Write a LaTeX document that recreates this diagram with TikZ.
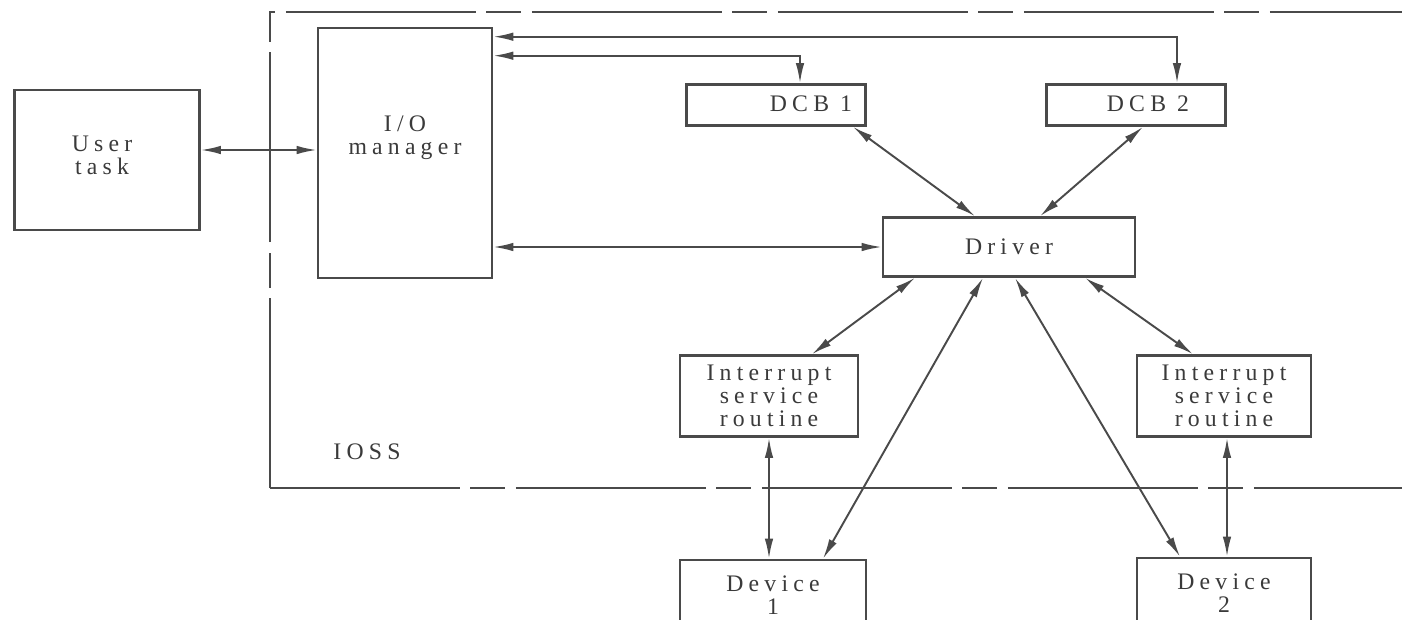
\documentclass[tikz,border=0pt]{standalone}
\usepackage{fontspec}
\setmainfont{Liberation Serif}
\newfontfamily\trackfont[LetterSpace=22]{Liberation Serif}
\usetikzlibrary{arrows.meta,calc}
\definecolor{ink}{HTML}{4A4A4A}
\definecolor{txt}{HTML}{3A3A3A}
\tikzset{
  blk/.style={draw=ink, line width=1.5pt, align=center, inner sep=2pt},
  lbl/.style={align=center, text=txt, inner sep=1pt, font=\trackfont\fontsize{13.5}{13}\selectfont},
  biarr/.style={{Latex[length=4mm,width=1.7mm]}-{Latex[length=4mm,width=1.7mm]}, draw=ink, line width=1.1pt},
  frame/.style={draw=ink, line width=1.1pt, dash pattern=on 108pt off 6pt on 20pt off 6pt},
}
\newcommand{\blk}[5]{\node[blk, lbl, minimum width=#3cm, minimum height=#4cm] (#1) at #2 {#5};}
\begin{document}
\begin{tikzpicture}[x=0.02cm,y=-0.02cm]
  \useasboundingbox (0,0) rectangle (1402,619);
  \draw[frame] (270,488) -- (270,12) -- (1402,12);
  \draw[frame] (270,488) -- (1402,488);
  \node[lbl] (ioss) at (367,452) {IOSS};
  \node[blk, minimum width=3.7cm, minimum height=2.8cm] (user) at (107,160) {};
  \node[lbl] (usertxt) at (102,155) {User\\task};
  \node[blk, minimum width=3.48cm, minimum height=5.0cm] (iom) at (405,153) {};
  \node[lbl] (iomtxt) at (405,138) {I/O\\manager};
  \node[blk, minimum width=3.58cm, minimum height=0.82cm] (dcb1) at (776,105) {};
  \node[lbl] (dcb1txt) at (811,104) {DCB 1};
  \node[blk, minimum width=3.58cm, minimum height=0.82cm] (dcb2) at (1136,105) {};
  \node[lbl] (dcb2txt) at (1148,104) {DCB 2};
  \blk{drv}{(1009,247)}{5.04}{1.18}{Driver}
  \blk{isr1}{(769,396)}{3.56}{1.62}{Interrupt\\service\\routine}
  \blk{isr2}{(1224,396)}{3.48}{1.62}{Interrupt\\service\\routine}
  \blk{dev1}{(773,595)}{3.72}{1.4}{Device\\1}
  \blk{dev2}{(1224,593)}{3.48}{1.4}{Device\\2}
  \draw[biarr] (user.east |- 0,150) -- (iom.west |- 0,150);
  \draw[biarr] ($(iom.north east)+(0,10)$) -| ($(dcb2.north)+(41,0)$);
  \draw[biarr] ($(iom.north east)+(0,29)$) -| ($(dcb1.north)+(24,0)$);
  \draw[biarr] (iom.east |- drv.west) -- (drv.west);
  \draw[biarr] ($(dcb1.south)+(77,0)$) -- ($(drv.north)+(-34,0)$);
  \draw[biarr] ($(dcb2.south)+(7,0)$) -- ($(drv.north)+(31,0)$);
  \draw[biarr] ($(drv.south)+(-94,0)$) -- ($(isr1.north)+(43,0)$);
  \draw[biarr] ($(drv.south)+(76,0)$) -- ($(isr2.north)+(-31,0)$);
  \draw[biarr] ($(drv.south)+(-26,0)$) -- ($(dev1.north)+(50,0)$);
  \draw[biarr] ($(drv.south)+(6,0)$) -- ($(dev2.north)+(-44,0)$);
  \draw[biarr] (isr1.south) -- (isr1.south |- dev1.north);
  \draw[biarr] ($(isr2.south)+(3,0)$) -- ($(isr2.south |- dev2.north)+(3,0)$);
\end{tikzpicture}
\end{document}
